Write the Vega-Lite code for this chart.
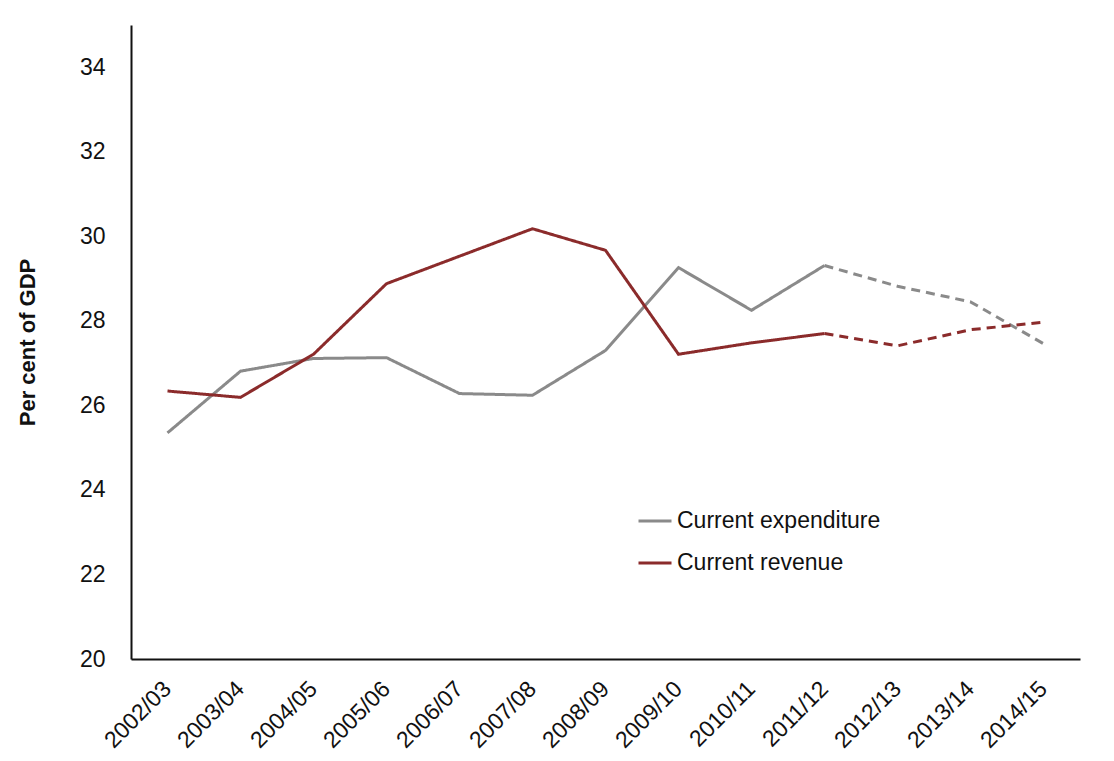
{
  "$schema": "https://vega.github.io/schema/vega-lite/v6.json",
  "autosize": "none",
  "width": 949,
  "height": 634,
  "padding": {"left": 131, "top": 25, "right": 34, "bottom": 102},
  "background": "white",
  "config": {
    "view": {"stroke": null},
    "font": "Liberation Sans"
  },
  "data": {
    "values": [
      {"year": "2002/03", "series": "Current expenditure", "segment": "actual", "value": 25.35},
      {"year": "2003/04", "series": "Current expenditure", "segment": "actual", "value": 26.81},
      {"year": "2004/05", "series": "Current expenditure", "segment": "actual", "value": 27.11},
      {"year": "2005/06", "series": "Current expenditure", "segment": "actual", "value": 27.13},
      {"year": "2006/07", "series": "Current expenditure", "segment": "actual", "value": 26.28},
      {"year": "2007/08", "series": "Current expenditure", "segment": "actual", "value": 26.24},
      {"year": "2008/09", "series": "Current expenditure", "segment": "actual", "value": 27.3},
      {"year": "2009/10", "series": "Current expenditure", "segment": "actual", "value": 29.26},
      {"year": "2010/11", "series": "Current expenditure", "segment": "actual", "value": 28.25},
      {"year": "2011/12", "series": "Current expenditure", "segment": "actual", "value": 29.31},
      {"year": "2011/12", "series": "Current expenditure", "segment": "projected", "value": 29.31},
      {"year": "2012/13", "series": "Current expenditure", "segment": "projected", "value": 28.82},
      {"year": "2013/14", "series": "Current expenditure", "segment": "projected", "value": 28.45},
      {"year": "2014/15", "series": "Current expenditure", "segment": "projected", "value": 27.46},
      {"year": "2002/03", "series": "Current revenue", "segment": "actual", "value": 26.34},
      {"year": "2003/04", "series": "Current revenue", "segment": "actual", "value": 26.19},
      {"year": "2004/05", "series": "Current revenue", "segment": "actual", "value": 27.21},
      {"year": "2005/06", "series": "Current revenue", "segment": "actual", "value": 28.88},
      {"year": "2006/07", "series": "Current revenue", "segment": "actual", "value": 29.53},
      {"year": "2007/08", "series": "Current revenue", "segment": "actual", "value": 30.18},
      {"year": "2008/09", "series": "Current revenue", "segment": "actual", "value": 29.67},
      {"year": "2009/10", "series": "Current revenue", "segment": "actual", "value": 27.21},
      {"year": "2010/11", "series": "Current revenue", "segment": "actual", "value": 27.48},
      {"year": "2011/12", "series": "Current revenue", "segment": "actual", "value": 27.7},
      {"year": "2011/12", "series": "Current revenue", "segment": "projected", "value": 27.7},
      {"year": "2012/13", "series": "Current revenue", "segment": "projected", "value": 27.41},
      {"year": "2013/14", "series": "Current revenue", "segment": "projected", "value": 27.79},
      {"year": "2014/15", "series": "Current revenue", "segment": "projected", "value": 27.97}
    ]
  },
  "mark": {"type": "line", "strokeWidth": 3},
  "encoding": {
    "x": {
      "field": "year",
      "type": "ordinal",
      "scale": {"type": "band", "paddingInner": 0, "paddingOuter": 0},
      "axis": {
        "title": null,
        "domainColor": "#111",
        "domainWidth": 2,
        "ticks": false,
        "grid": false,
        "labelAngle": -45,
        "labelAlign": "right",
        "labelBaseline": "middle",
        "labelPadding": 26,
        "labelFontSize": 23,
        "labelColor": "#111",
        "labelFont": "Liberation Sans"
      }
    },
    "y": {
      "field": "value",
      "type": "quantitative",
      "scale": {"domain": [20, 35], "nice": false, "zero": false},
      "axis": {
        "title": "Per cent of GDP",
        "titleFontSize": 22,
        "titleFontWeight": "bold",
        "titleColor": "#111",
        "titleFont": "Liberation Sans",
        "titleX": -92,
        "titleY": 317,
        "values": [20, 22, 24, 26, 28, 30, 32, 34],
        "domainColor": "#111",
        "domainWidth": 2,
        "ticks": false,
        "grid": false,
        "labelPadding": 26,
        "labelFontSize": 23,
        "labelColor": "#111",
        "labelFont": "Liberation Sans"
      }
    },
    "color": {
      "field": "series",
      "type": "nominal",
      "scale": {"domain": ["Current expenditure", "Current revenue"], "range": ["#8a8a8a", "#8b2b2b"]},
      "legend": {
        "title": null,
        "orient": "none",
        "legendX": 506,
        "legendY": 478,
        "symbolType": "stroke",
        "symbolSize": 1089,
        "symbolStrokeWidth": 3,
        "labelFontSize": 23,
        "labelColor": "#111",
        "labelFont": "Liberation Sans",
        "labelLimit": 0,
        "labelOffset": 4,
        "rowPadding": 12
      }
    },
    "strokeDash": {
      "field": "segment",
      "type": "nominal",
      "scale": {"domain": ["actual", "projected"], "range": [[1, 0], [9, 6]]},
      "legend": null
    }
  }
}
